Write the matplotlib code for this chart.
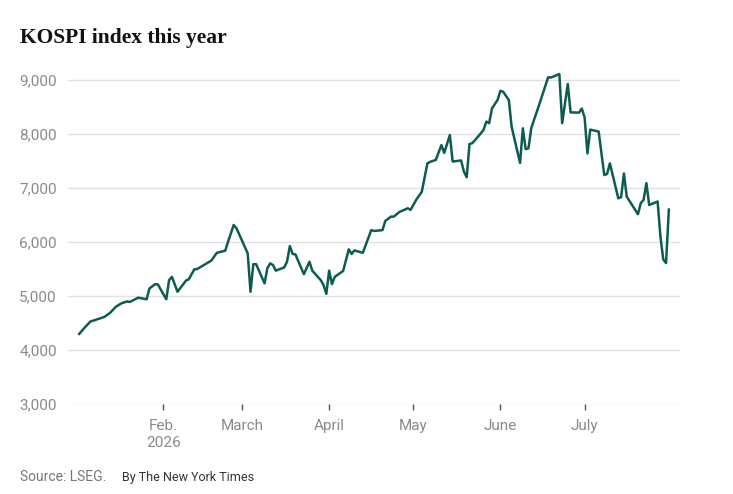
import numpy as np
import pandas as pd
import matplotlib
matplotlib.use("Agg")
import matplotlib.pyplot as plt
import matplotlib.dates as mdates

# KOSPI closing levels (turning points of the line)
dates = [
    "2026-01-02", "2026-01-04", "2026-01-06", "2026-01-07", "2026-01-09", "2026-01-11",
    "2026-01-13", "2026-01-15", "2026-01-17", "2026-01-19", "2026-01-20", "2026-01-23",
    "2026-01-26", "2026-01-27", "2026-01-29", "2026-01-30",
    "2026-02-02", "2026-02-03", "2026-02-04", "2026-02-06", "2026-02-09", "2026-02-10",
    "2026-02-12", "2026-02-13", "2026-02-18", "2026-02-20", "2026-02-23", "2026-02-24",
    "2026-02-26", "2026-02-27",
    "2026-03-03", "2026-03-04", "2026-03-05", "2026-03-06", "2026-03-09", "2026-03-10",
    "2026-03-11", "2026-03-12", "2026-03-13", "2026-03-16", "2026-03-17", "2026-03-18",
    "2026-03-19", "2026-03-20", "2026-03-23", "2026-03-25", "2026-03-26", "2026-03-29",
    "2026-03-30", "2026-03-31",
    "2026-04-01", "2026-04-02", "2026-04-03", "2026-04-06", "2026-04-08", "2026-04-09",
    "2026-04-10", "2026-04-13", "2026-04-16", "2026-04-17", "2026-04-20", "2026-04-21",
    "2026-04-23", "2026-04-24", "2026-04-26", "2026-04-29", "2026-04-30",
    "2026-05-02", "2026-05-04", "2026-05-06", "2026-05-07", "2026-05-09", "2026-05-11",
    "2026-05-12", "2026-05-14", "2026-05-15", "2026-05-18", "2026-05-19", "2026-05-20",
    "2026-05-21", "2026-05-22", "2026-05-25", "2026-05-26", "2026-05-27", "2026-05-28",
    "2026-05-29", "2026-05-31",
    "2026-06-01", "2026-06-02", "2026-06-04", "2026-06-05", "2026-06-08", "2026-06-09",
    "2026-06-10", "2026-06-11", "2026-06-12", "2026-06-15", "2026-06-18", "2026-06-19",
    "2026-06-22", "2026-06-23", "2026-06-25", "2026-06-26", "2026-06-29", "2026-06-30",
    "2026-07-01", "2026-07-02", "2026-07-03", "2026-07-06", "2026-07-08", "2026-07-09",
    "2026-07-10", "2026-07-13", "2026-07-14", "2026-07-15", "2026-07-16", "2026-07-20",
    "2026-07-21", "2026-07-22", "2026-07-23", "2026-07-24", "2026-07-27", "2026-07-28",
    "2026-07-29", "2026-07-30", "2026-07-31",
]
kospi = [
    4300, 4420, 4530, 4545, 4580, 4615, 4690, 4800, 4865, 4900, 4890, 4970,
    4940, 5140, 5220, 5215,
    4940, 5295, 5355, 5080, 5285, 5310, 5495, 5500, 5655, 5800, 5840, 6005,
    6315, 6255,
    5790, 5080, 5590, 5590, 5235, 5515, 5605, 5575, 5470, 5530, 5635, 5925,
    5780, 5770, 5405, 5635, 5470, 5295, 5205, 5040,
    5470, 5220, 5355, 5465, 5865, 5780, 5845, 5800, 6220, 6205, 6220, 6390,
    6470, 6470, 6555, 6625, 6595,
    6780, 6930, 7455, 7485, 7520, 7795, 7650, 7980, 7490, 7510, 7305, 7200,
    7815, 7830, 8010, 8075, 8230, 8200, 8475, 8630,
    8800, 8780, 8630, 8135, 7465, 8105, 7720, 7735, 8110, 8570, 9050, 9045,
    9110, 8200, 8925, 8400, 8395, 8470,
    8305, 7640, 8080, 8045, 7240, 7260, 7455, 6810, 6830, 7270, 6840, 6515,
    6720, 6780, 7090, 6685, 6750, 6100, 5680, 5610, 6600,
]

y_ticks = [3000, 4000, 5000, 6000, 7000, 8000, 9000]
x_ticks = ["2026-02-01", "2026-03-01", "2026-04-01", "2026-05-01", "2026-06-01", "2026-07-01"]
x_labels = ["Feb.\n2026", "March", "April", "May", "June", "July"]

line_color = "#0d5c52"
grid_color = "#e2e2e2"
label_color = "#8a8a8a"

fig = plt.figure(figsize=(7.33, 4.94), dpi=100)
ax = fig.add_axes([0.0928, 0.182, 0.835, 0.678])

ax.plot(pd.to_datetime(dates), kospi, color=line_color, lw=1.8,
        solid_joinstyle="round", zorder=3)

ax.set_ylim(3000, 9200)
ax.set_xlim(pd.Timestamp("2025-12-29"), pd.Timestamp("2026-08-04"))

ax.set_yticks(y_ticks)
ax.set_yticklabels([f"{v:,}" for v in y_ticks])
ax.yaxis.grid(True, color=grid_color, lw=1)
ax.set_axisbelow(True)

ax.set_xticks(pd.to_datetime(x_ticks))
ax.set_xticklabels(x_labels, linespacing=1.25)

for s in ax.spines.values():
    s.set_visible(False)

ax.tick_params(axis="y", length=0, pad=8, labelsize=11, labelcolor=label_color)
ax.tick_params(axis="x", length=4, width=1, color="#555555", pad=7,
               labelsize=11, labelcolor=label_color)
for lbl in ax.get_xticklabels() + ax.get_yticklabels():
    lbl.set_family("Roboto")

fig.text(20 / 733, 1 - 38 / 494, "KOSPI index this year", family="Liberation Serif",
         fontweight="bold", fontsize=15.5, color="#121212", va="center", ha="left")

fig.text(20 / 733, 1 - 477 / 494, "Source: LSEG.", family="Roboto", fontsize=10,
         color="#777777", va="center", ha="left")
fig.text(122 / 733, 1 - 477 / 494, "By The New York Times", family="Roboto", fontsize=9,
         color="#333333", va="center", ha="left")

fig.savefig("out.png", dpi=100)
